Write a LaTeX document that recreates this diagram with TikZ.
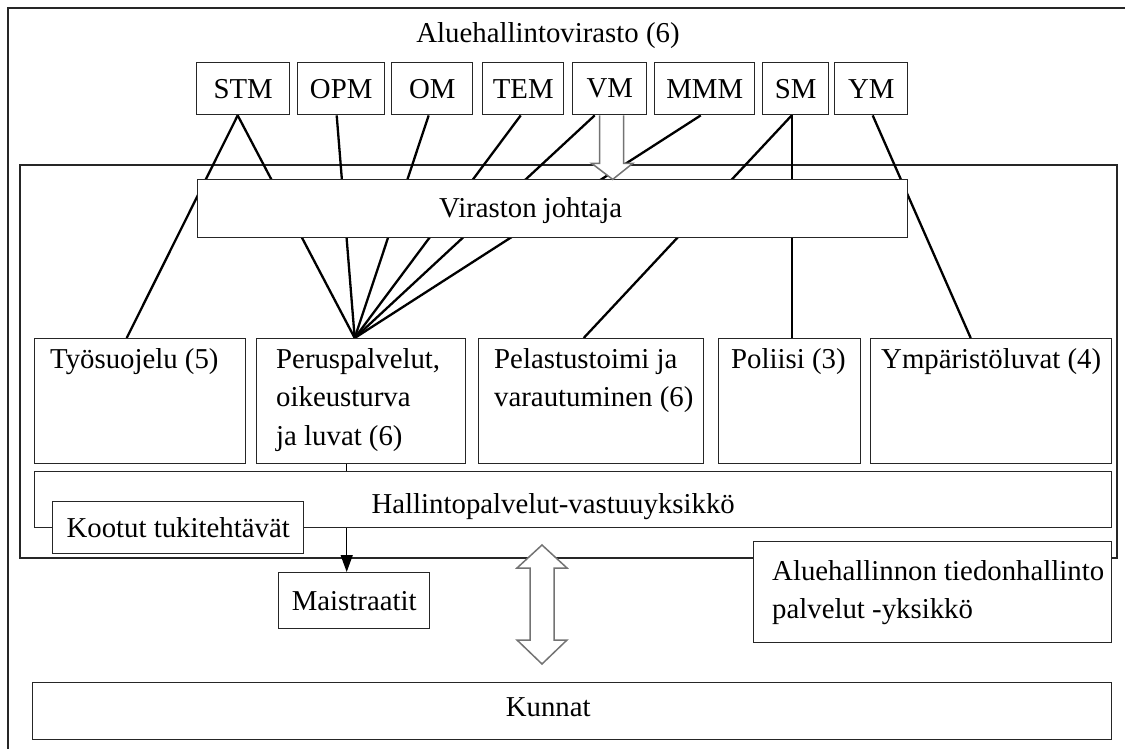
\documentclass[tikz,border=0pt]{standalone}
\usepackage{fontspec}
\setmainfont{Liberation Serif}
\usetikzlibrary{arrows.meta,backgrounds,calc}

\begin{document}
\begin{tikzpicture}[x=1pt,y=1pt,yscale=-1,
  every node/.style={font=\fontsize{28.8pt}{38.5pt}\selectfont, inner sep=0pt},
  box/.style={draw=black!85, fill=white, line width=1.4pt, anchor=north west},
  mini/.style={box, minimum height=52pt},
  unit/.style={box, minimum height=125pt},
  utext/.style={anchor=north west, align=left},
  wire/.style={line width=2.3pt},
  hollow/.style={draw=black!55, fill=white, line width=1.5pt, line join=miter}]
\useasboundingbox (0,0) rectangle (1125,748);

%Text: title
\node[anchor=base] (title) at (548,42) {Aluehallintovirasto (6)};

%Shape: Rectangle -- ministries
\node[mini, minimum width=93pt] (stm) at (196,62) {STM};
\node[mini, minimum width=87pt] (opm) at (297,62) {OPM};
\node[mini, minimum width=81pt] (om) at (391,62) {OM};
\node[mini, minimum width=81pt] (tem) at (482,62) {TEM};
\node[mini, minimum width=74pt] (vm) at (572,62) {VM};
\node[mini, minimum width=100pt] (mmm) at (654,62) {MMM};
\node[mini, minimum width=66pt] (sm) at (762,62) {SM};
\node[mini, minimum width=73pt] (ym) at (834,62) {YM};

%Shape: Rectangle -- Viraston johtaja
\node[box, minimum width=710pt, minimum height=58pt] (vir) at (197,179) {};
\node[anchor=base] (virT) at ($(vir.center)+(-22,8.5)$) {Viraston johtaja};

%Shape: Rectangle -- units
\node[unit, minimum width=211pt] (tyo) at (34,338) {};
\node[utext] (tyoT) at ($(tyo.north west)+(16,10)$) {Työsuojelu (5)};
\node[unit, minimum width=209pt] (peru) at (256,338) {};
\node[utext] (peruT) at ($(peru.north west)+(20,10)$) {Peruspalvelut,\\oikeusturva\\ja luvat (6)};
\node[unit, minimum width=225pt] (pel) at (478,338) {};
\node[utext] (pelT) at ($(pel.north west)+(16,10)$) {Pelastustoimi ja\\varautuminen (6)};
\node[unit, minimum width=142pt] (pol) at (718,338) {};
\node[utext] (polT) at ($(pol.north west)+(13,10)$) {Poliisi (3)};
\node[unit, minimum width=241pt] (ymp) at (870,338) {};
\node[utext] (ympT) at ($(ymp.north west)+(11,10)$) {Ympäristöluvat (4)};

%Shape: Rectangle -- Hallintopalvelut, Kootut
\node[box, minimum width=1077pt, minimum height=56pt] (hal) at (34,471) {};
\node[anchor=base] (halT) at ($(hal.center)+(-20,14)$) {Hallintopalvelut-vastuuyksikkö};
\node[box, minimum width=251pt, minimum height=52pt] (koo) at (52,501) {Kootut tukitehtävät};

%Shape: Rectangle -- below the agency
\node[box, minimum width=151pt, minimum height=56pt] (mais) at (278,572) {Maistraatit};
\node[box, minimum width=358pt, minimum height=101pt] (tieto) at (753,541) {};
\node[utext] (tietoT) at ($(tieto.north west)+(19,19)$) {Aluehallinnon tiedonhallinto\\palvelut -yksikkö};
\node[box, minimum width=1079pt, minimum height=57pt] (kun) at (32,682) {};
\node[anchor=base] (kunT) at ($(kun.center)+(-24,5.5)$) {Kunnat};

\begin{scope}[on background layer]
%Shape: Rectangle -- frames
\draw[line width=1.4pt, black!85] (8,8) rectangle (1140,760);
\draw[line width=1.4pt, black!85] (20,165) rectangle (1117,558);
%Straight Lines
\coordinate (fan) at ([xshift=-6.5pt]peru.north);
\draw[wire] ([xshift=-5.5pt]stm.south) -- ([xshift=-13.5pt]tyo.north);
\draw[wire] ([xshift=-5.5pt]stm.south) -- (fan);
\foreach \m/\dx in {opm/-4.5, om/-3.5, tem/-2.5, vm/-15, mmm/-4}
  \draw[wire] ([xshift=\dx pt]\m.south) -- (fan);
\draw[wire] ([xshift=-4pt]sm.south) -- ([xshift=-7.5pt]pel.north);
\draw[wire] ([xshift=-4pt]sm.south) -- ([xshift=-4pt]sm.south |- pol.north);
\draw[wire] ([xshift=1.5pt]ym.south) -- ([xshift=-20.5pt]ymp.north);
%Straight Lines -- arrow to Maistraatit
\draw[line width=1.4pt, -{Triangle[length=17pt,width=12pt]}] ([xshift=-14.5pt]peru.south) -- ([xshift=-14.5pt]peru.south |- mais.north);
\end{scope}

%Shape: Arrow -- VM
\draw[hollow] ([xshift=-10pt]vm.south) -- ++(0,48) -- ++(-8,0) -- ++(21,16) -- ++(20,-16) -- ++(-9,0) -- ++(0,-48);
%Shape: Double Arrow
\coordinate (dtip) at (542,545);
\draw[hollow] (dtip) -- ++(25,23) -- ++(-13,0) -- ++(0,72) -- ++(13,0) -- ++(-25,24) -- ++(-25,-24) -- ++(13,0) -- ++(0,-72) -- ++(-13,0) -- cycle;

\end{tikzpicture}
\end{document}
